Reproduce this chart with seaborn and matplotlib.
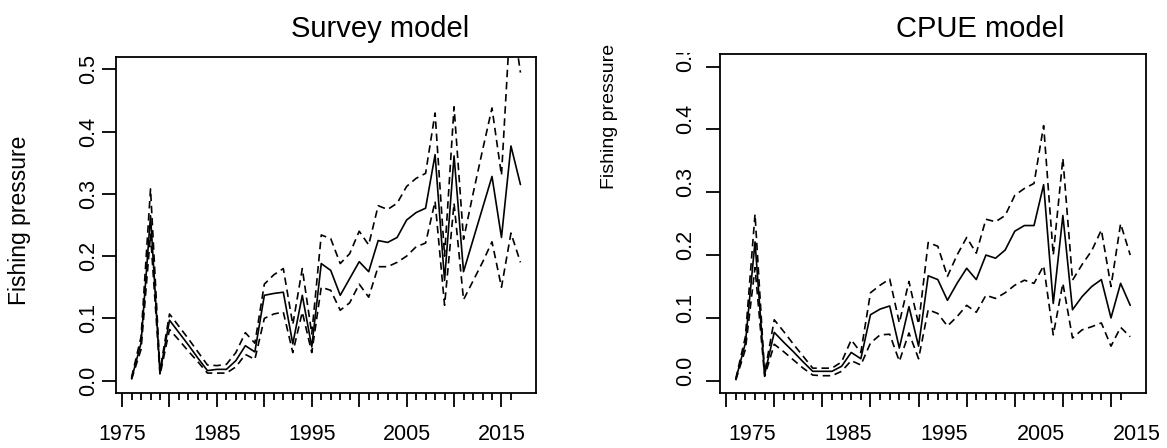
import numpy as np
import pandas as pd
import matplotlib
matplotlib.use("Agg")
import matplotlib.pyplot as plt
import seaborn as sns
from matplotlib.transforms import ScaledTranslation, Bbox, TransformedBbox

years = list(range(1976, 2018))

survey_est = [0.003, 0.06, 0.265, 0.012, 0.097, 0.077, 0.057, 0.036, 0.016, 0.018,
              0.018, 0.032, 0.056, 0.046, 0.137, 0.14, 0.142, 0.059, 0.137, 0.054,
              0.188, 0.177, 0.137, 0.164, 0.191, 0.175, 0.225, 0.222, 0.23, 0.258,
              0.27, 0.277, 0.363, 0.161, 0.361, 0.175, 0.226, 0.277, 0.328, 0.23,
              0.377, 0.315]
survey_upper = [0.005, 0.07, 0.308, 0.016, 0.107, 0.087, 0.067, 0.046, 0.025, 0.024,
                0.026, 0.045, 0.077, 0.06, 0.155, 0.17, 0.18, 0.09, 0.18, 0.075,
                0.234, 0.228, 0.188, 0.204, 0.24, 0.218, 0.281, 0.275, 0.285, 0.312,
                0.325, 0.333, 0.43, 0.2, 0.44, 0.227, 0.3, 0.37, 0.438, 0.33,
                0.6, 0.495]
survey_lower = [0.002, 0.05, 0.235, 0.009, 0.082, 0.065, 0.047, 0.03, 0.012, 0.012,
                0.012, 0.022, 0.042, 0.034, 0.1, 0.107, 0.11, 0.045, 0.11, 0.045,
                0.15, 0.145, 0.113, 0.125, 0.155, 0.134, 0.183, 0.183, 0.19, 0.2,
                0.215, 0.221, 0.288, 0.121, 0.285, 0.13, 0.16, 0.19, 0.223, 0.15,
                0.237, 0.19]

cpue_est = [0.002, 0.06, 0.221, 0.01, 0.077, 0.061, 0.046, 0.03, 0.015, 0.015,
            0.015, 0.023, 0.045, 0.035, 0.105, 0.114, 0.119, 0.052, 0.118, 0.055,
            0.167, 0.161, 0.128, 0.155, 0.179, 0.161, 0.2, 0.195, 0.208, 0.238,
            0.247, 0.247, 0.312, 0.123, 0.263, 0.113, 0.134, 0.15, 0.161, 0.1,
            0.155, 0.12]
cpue_upper = [0.003, 0.07, 0.265, 0.012, 0.097, 0.078, 0.058, 0.039, 0.02, 0.02,
              0.02, 0.03, 0.065, 0.045, 0.14, 0.152, 0.162, 0.092, 0.158, 0.09,
              0.22, 0.214, 0.166, 0.2, 0.228, 0.203, 0.257, 0.253, 0.263, 0.295,
              0.306, 0.314, 0.406, 0.2, 0.354, 0.16, 0.185, 0.207, 0.24, 0.15,
              0.25, 0.2]
cpue_lower = [0.001, 0.05, 0.18, 0.007, 0.058, 0.046, 0.033, 0.02, 0.009, 0.008,
              0.008, 0.015, 0.032, 0.025, 0.06, 0.073, 0.074, 0.031, 0.076, 0.035,
              0.113, 0.107, 0.087, 0.102, 0.12, 0.109, 0.136, 0.131, 0.14, 0.152,
              0.16, 0.155, 0.183, 0.073, 0.155, 0.068, 0.081, 0.086, 0.092, 0.055,
              0.085, 0.07]

titles = ["Survey model", "CPUE model"]
ylabel = "Fishing pressure"
y_ticks = [0.0, 0.1, 0.2, 0.3, 0.4, 0.5]
y_ticklabels = ["0.0", "0.1", "0.2", "0.3", "0.4", "0.5"]
x_major = [1975, 1980, 1985, 1990, 1995, 2000, 2005, 2010, 2015]
x_major_labels = ["1975", "", "1985", "", "1995", "", "2005", "", "2015"]
x_minor = list(range(1975, 2017))

sns.set_style("ticks")
plt.rcParams["font.family"] = ["Liberation Sans", "DejaVu Sans"]
plt.rcParams["text.color"] = "black"

W, H = 1167, 448
fig = plt.figure(figsize=(W / 100, H / 100), dpi=100)
ax1 = fig.add_axes([116 / W, 1 - 393 / H, 420 / W, 336 / H])
ax2 = fig.add_axes([720 / W, 1 - 393.3 / H, 426 / W, 339.3 / H])

panels = [
    (ax1, survey_est, survey_upper, survey_lower),
    (ax2, cpue_est, cpue_upper, cpue_lower),
]

for ax, est, up, lo in panels:
    df = pd.DataFrame({"year": years, "est": est, "upper": up, "lower": lo})
    sns.lineplot(data=df, x="year", y="est", ax=ax, color="black", lw=1.2)
    for col in ["upper", "lower"]:
        sns.lineplot(data=df, x="year", y=col, ax=ax, color="black", lw=1.2,
                     linestyle="--")
        ax.lines[-1].set_dashes((4.5, 2.8))
    ax.set_xlim(1974.36, 2018.64)
    ax.set_ylim(-0.02, 0.52)
    ax.set_xlabel("")
    ax.set_ylabel("")
    for s in ax.spines.values():
        s.set_linewidth(1.3)
        s.set_color("black")
    ax.set_xticks(x_major)
    ax.set_xticklabels(x_major_labels)
    ax.set_xticks(x_minor, minor=True)
    ax.set_yticks(y_ticks)
    ax.set_yticklabels(y_ticklabels, rotation=90, va="center")
    ax.tick_params(axis="x", which="major", length=10, width=1.3, pad=12,
                   labelsize=15.5, colors="black")
    ax.tick_params(axis="x", which="minor", length=5, width=1.3, colors="black")
    ax.tick_params(axis="y", which="major", length=10, width=1.3, pad=2,
                   labelsize=15.5, colors="black")

ax2.tick_params(axis="y", pad=7)

# right-panel labels sit offset from their ticks in the reference
off_x = ScaledTranslation(26 / 100, 0, fig.dpi_scale_trans)
for lab in ax2.get_xticklabels():
    lab.set_transform(lab.get_transform() + off_x)
off_y = ScaledTranslation(0, 10 / 100, fig.dpi_scale_trans)
ylabs = ax2.get_yticklabels()
for lab in ylabs:
    lab.set_transform(lab.get_transform() + off_y)
clip = TransformedBbox(Bbox([[0, 0], [1, 1 - 53.5 / H]]), fig.transFigure)
ylabs[-1].set_clip_box(clip)
ylabs[-1].set_clip_on(True)

fig.text(380 / W, 1 - 37 / H, titles[0], ha="center", va="baseline",
         fontsize=21, color="black")
fig.text(980 / W, 1 - 37 / H, titles[1], ha="center", va="baseline",
         fontsize=21, color="black")
fig.text(20 / W, 1 - 220 / H, ylabel, rotation=90, ha="center", va="center",
         fontsize=16.5, color="black")
fig.text(609 / W, 1 - 116 / H, ylabel, rotation=90, ha="center", va="center",
         fontsize=14, color="black")

fig.savefig("out.png", dpi=100, facecolor="white")
